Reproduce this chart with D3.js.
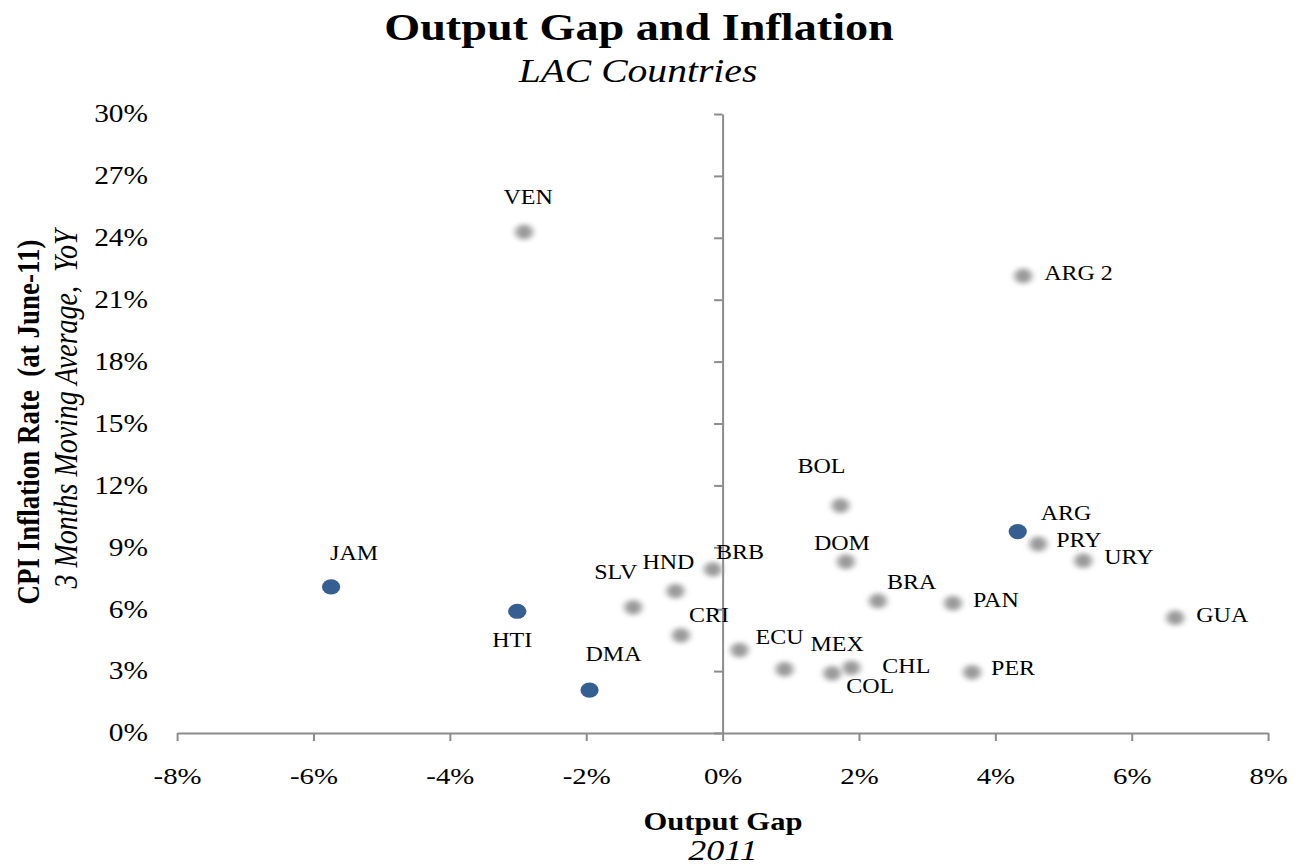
<!DOCTYPE html>
<html>
<head>
<meta charset="utf-8">
<script src="https://cdn.jsdelivr.net/npm/d3@7"></script>
<style>
  html, body { margin: 0; padding: 0; background: #fff; }
  svg { display: block; }
  text { font-family: "Liberation Serif", "Times New Roman", serif; fill: #000; }
</style>
</head>
<body>
<svg id="chart" width="1295" height="866"></svg>
<script>
// ---- data ----
const countries = ["VEN","ARG 2","BOL","ARG","PRY","URY","DOM","BRB","HND","SLV","JAM","HTI","DMA","CRI","ECU","MEX","COL","CHL","BRA","PAN","PER","GUA"];
const outputGap = [-2.91, 4.41, 1.73, 4.33, 4.63, 5.29, 1.81, -0.14, -0.69, -1.31, -5.74, -3.01, -1.95, -0.61, 0.25, 0.91, 1.61, 1.89, 2.28, 3.38, 3.66, 6.64];
const inflation = [24.28, 22.15, 11.02, 9.76, 9.16, 8.35, 8.30, 7.93, 6.88, 6.09, 7.08, 5.90, 2.08, 4.73, 4.02, 3.09, 2.89, 3.16, 6.40, 6.29, 2.94, 5.59];
const highlighted = ["JAM","HTI","DMA","ARG"];
const xTicks = [-8,-6,-4,-2,0,2,4,6,8];
const yTicks = [0,3,6,9,12,15,18,21,24,27,30];

// ---- label layout (screen px offsets from the point) ----
const labelLayout = {
  "VEN":["middle",4,-35], "ARG 2":["start",21,-3], "BOL":["middle",-19,-40],
  "ARG":["start",23,-19], "PRY":["start",18,-4], "URY":["start",21,-4],
  "DOM":["middle",-4,-19], "BRB":["start",3,-17], "HND":["start",-33,-29],
  "SLV":["start",-39,-35], "JAM":["middle",23,-34], "HTI":["middle",-5,29],
  "DMA":["middle",24,-36], "CRI":["start",8,-20], "ECU":["start",16,-13],
  "MEX":["start",26,-25], "COL":["start",14,13], "CHL":["start",31,-2],
  "BRA":["start",9,-19], "PAN":["start",20,-3], "PER":["start",19,-4],
  "GUA":["start",21,-3]
};

const SX = 1.2; // horizontal stretch of the whole picture
const svg = d3.select("#chart");
const defs = svg.append("defs");
defs.append("filter").attr("id","soft").attr("x","-50%").attr("y","-50%").attr("width","200%").attr("height","200%")
  .append("feGaussianBlur").attr("stdDeviation", 2.5);

const g = svg.append("g").attr("transform", `scale(${SX},1)`);

const x = d3.scaleLinear().domain([-8, 8]).range([177 / SX, 1268 / SX]);
const y = d3.scaleLinear().domain([0, 30]).range([733, 114]);

const axisColor = "#8c8c8c";

// x axis
const xAxis = g.append("g").attr("transform", `translate(0,${y(0)})`)
  .call(d3.axisBottom(x).tickValues(xTicks).tickSize(8).tickSizeOuter(0).tickPadding(26)
        .tickFormat(d => d + "%"));
xAxis.selectAll("path, line").attr("stroke", axisColor).attr("stroke-width", 2).attr("vector-effect","non-scaling-stroke");
xAxis.selectAll("text").style("font-size", "24px").style("font-family", "Liberation Serif").attr("fill", "#000");

// y axis line (at x = 0) with ticks, no labels
const yAxis = g.append("g").attr("transform", `translate(${x(0)},0)`)
  .call(d3.axisLeft(y).tickValues(yTicks).tickSize(7).tickSizeOuter(0).tickFormat(""));
yAxis.selectAll("path, line").attr("stroke", axisColor).attr("stroke-width", 2).attr("vector-effect","non-scaling-stroke");

// y tick labels at the left
const yLab = g.append("g").attr("transform", `translate(${148 / SX},0)`)
  .call(d3.axisLeft(y).tickValues(yTicks).tickSize(0).tickPadding(0).tickFormat(d => d + "%"));
yLab.select(".domain").remove();
yLab.selectAll("text").style("font-size", "24.5px").style("font-family", "Liberation Serif").attr("fill", "#000");

// points
const data = countries.map((c, i) => ({ c, gx: outputGap[i], inf: inflation[i], hi: highlighted.includes(c) }));

g.append("g").selectAll("circle").data(data.filter(d => !d.hi)).join("circle")
  .attr("cx", d => x(d.gx)).attr("cy", d => y(d.inf)).attr("r", 7.4)
  .attr("fill", "#9a9a9a").attr("filter", "url(#soft)");

g.append("g").selectAll("circle").data(data.filter(d => d.hi)).join("circle")
  .attr("cx", d => x(d.gx)).attr("cy", d => y(d.inf)).attr("r", 7.6)
  .attr("fill", "#365f91");

// labels
g.append("g").selectAll("text").data(data).join("text")
  .attr("x", d => x(d.gx) + labelLayout[d.c][1] / SX)
  .attr("y", d => y(d.inf) + labelLayout[d.c][2])
  .attr("dy", "0.35em")
  .attr("text-anchor", d => labelLayout[d.c][0])
  .style("font-size", "20px")
  .text(d => d.c);

// titles
g.append("text").attr("x", 639 / SX).attr("y", 40).attr("text-anchor", "middle")
  .style("font-size", "38.5px").style("font-weight", "bold").text("Output Gap and Inflation");
g.append("text").attr("x", 638 / SX).attr("y", 82).attr("text-anchor", "middle")
  .style("font-size", "33px").style("font-style", "italic").text("LAC Countries");

// x axis title
g.append("text").attr("x", 723 / SX).attr("y", 830).attr("text-anchor", "middle")
  .style("font-size", "25.5px").style("font-weight", "bold").text("Output Gap");
g.append("text").attr("x", 723 / SX).attr("y", 860).attr("text-anchor", "middle")
  .style("font-size", "30px").style("font-style", "italic").text("2011");

// y axis title
g.append("text").attr("transform", `translate(${39 / SX},422) rotate(-90)`).attr("text-anchor", "middle")
  .style("font-size", "27px").style("font-weight", "bold").attr("xml:space","preserve")
  .text("CPI Inflation Rate  (at June-11)");
g.append("text").attr("transform", `translate(${77 / SX},409) rotate(-90)`).attr("text-anchor", "middle")
  .style("font-size", "28px").style("font-style", "italic").attr("xml:space","preserve")
  .text("3 Months Moving Average,  YoY");
</script>
</body>
</html>
